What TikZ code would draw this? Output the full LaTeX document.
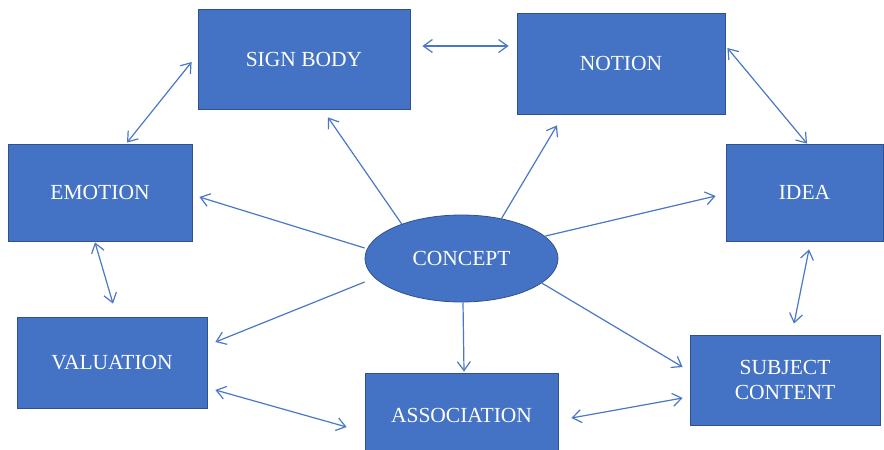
\documentclass[tikz,border=0pt]{standalone}
\usepackage{fontspec}
\setmainfont{Liberation Serif}
\usetikzlibrary{arrows.meta,calc,shapes.geometric}
\definecolor{boxblue}{HTML}{4472C4}
\definecolor{boxline}{HTML}{2F528F}
\definecolor{arrowblue}{HTML}{4A78C8}
\tikzset{
  box/.style={draw=boxline, fill=boxblue, line width=0.8pt, text=white, inner sep=0pt, align=center,
    font=\fontsize{21.5}{24.5}\selectfont},
  oval/.style={ellipse, draw=boxline, fill=boxblue, line width=0.8pt, text=white, inner sep=0pt,
    minimum width=193pt, minimum height=87pt, font=\fontsize{21.5}{24.5}\selectfont},
  link/.style={draw=arrowblue, line width=1.2pt, -{Straight Barb[length=9pt,width=13pt]}},
  dlink/.style={draw=arrowblue, line width=1.2pt, {Straight Barb[length=9pt,width=13pt]}-{Straight Barb[length=9pt,width=13pt]}}
}
\begin{document}
\begin{tikzpicture}[x=1pt,y=-1pt]
\useasboundingbox (0,0) rectangle (884,450);
\clip (0,0) rectangle (884,450);
\fill[white] (0,0) rectangle (884,450);
% nodes
\node[box, minimum width=212pt, minimum height=100pt] (sign) at (304,59.5) {SIGN BODY};
\node[box, minimum width=208pt, minimum height=101pt] (notion) at (621,63.5) {NOTION};
\node[box, minimum width=184pt, minimum height=97pt] (emotion) at (100,192.5) {EMOTION};
\node[box, minimum width=157pt, minimum height=97pt] (idea) at (804.5,192.5) {IDEA};
\node[box, minimum width=190pt, minimum height=91pt] (valuation) at (112,362.5) {VALUATION};
\node[box, minimum width=193pt, minimum height=84pt] (association) at (461.5,415) {ASSOCIATION};
\node[box, minimum width=190pt, minimum height=90pt] (subject) at (785,380) {SUBJECT\\CONTENT};
\node[oval] (concept) at (461.5,258.5) {CONCEPT};
% two-way connectors
\draw[dlink] ($(sign.west)+(-6,2.5)$) -- ($(emotion.north)+(27,-1)$);
\draw[dlink] ($(sign.east)+(12,-13.5)$) -- ($(notion.west)+(-8,-17.5)$);
\draw[dlink] ($(notion.east)+(2,-15.5)$) -- ($(idea.north)+(2.5,0)$);
\draw[dlink] ($(emotion.south)+(-5,1)$) -- ($(valuation.north)+(1,-13)$);
\draw[dlink] ($(valuation.east)+(8,27.5)$) -- ($(association.west)+(-18,12)$);
\draw[dlink] ($(association.east)+(13,3)$) -- ($(subject.west)+(-7,18)$);
\draw[dlink] ($(idea.south)+(4.5,8)$) -- ($(subject.north)+(9,-11)$);
% from concept
\draw[link] (concept.150) -- ($(sign.south)+(24,7.5)$);
\draw[link] (concept.45) -- ($(notion.south)+(-64,11)$);
\draw[link] (concept.15) -- ($(idea.west)+(-10,3.5)$);
\draw[link] ($(concept.west)+(0,-10.5)$) -- ($(emotion.east)+(7,4.5)$);
\draw[link] ($(concept.west)+(0,23.5)$) -- ($(valuation.east)+(8,-20.5)$);
\draw[link] ($(concept.south)+(1.5,0)$) -- ($(association.north)+(2.5,-1)$);
\draw[link] (concept.-17) -- ($(subject.west)+(-7,-13)$);
\end{tikzpicture}
\end{document}
